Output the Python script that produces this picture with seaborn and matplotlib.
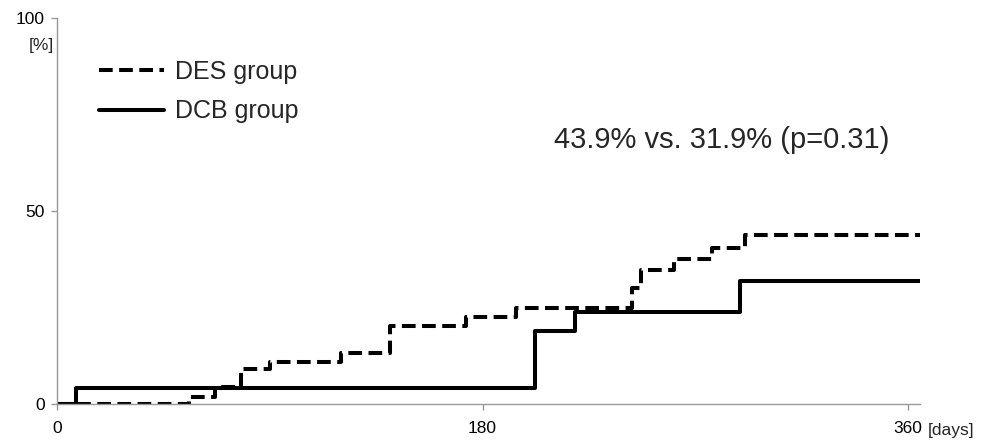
import pandas as pd
import numpy as np
import matplotlib
matplotlib.use('Agg')
import matplotlib.pyplot as plt
import seaborn as sns

sns.set_style('white')
plt.rcParams['font.family'] = ['Liberation Sans', 'DejaVu Sans']

# Cumulative incidence (step curves)
des_days = [0, 56, 67, 78, 90, 120, 141, 173, 194, 243, 247, 261, 277, 291, 365]
des_pct = [0, 1.9, 4.5, 9.1, 11.0, 13.3, 20.2, 22.5, 24.8, 30.0, 34.7, 37.7, 40.5, 43.9, 43.9]
dcb_days = [0, 8, 202, 219, 289, 365]
dcb_pct = [0, 4.1, 19.0, 23.9, 31.9, 31.9]

group_names = ['DES group', 'DCB group']
x_ticks = [0, 180, 360]
y_ticks = [0, 50, 100]
annotation = '43.9% vs. 31.9% (p=0.31)'

df = pd.concat([
    pd.DataFrame({'day': des_days, 'pct': des_pct, 'group': group_names[0]}),
    pd.DataFrame({'day': dcb_days, 'pct': dcb_pct, 'group': group_names[1]}),
], ignore_index=True)

fig = plt.figure(figsize=(9.87, 4.4), dpi=100)
ax = fig.add_axes([0.0578, 0.0818, 0.8743, 0.877])

sns.lineplot(data=df, x='day', y='pct', style='group', style_order=group_names,
             dashes={group_names[0]: (3.4, 1.6), group_names[1]: ''},
             color='black', linewidth=2.9, drawstyle='steps-post',
             estimator=None, sort=False, ax=ax)

ax.set_xlim(0, 365)
ax.set_ylim(0, 100)
ax.set_xticks(x_ticks)
ax.set_yticks(y_ticks)
ax.set_xlabel('')
ax.set_ylabel('')
ax.tick_params(axis='both', labelsize=12.5, colors='#999999', labelcolor='black',
               length=4, width=1, direction='out', bottom=True, left=True)
ax.tick_params(axis='x', pad=8)
ax.tick_params(axis='y', pad=5)
for side in ['top', 'right']:
    ax.spines[side].set_visible(False)
for side in ['left', 'bottom']:
    ax.spines[side].set_color('#999999')
    ax.spines[side].set_linewidth(1)

handles, labels = ax.get_legend_handles_labels()
ax.legend(handles, labels, loc='upper left', bbox_to_anchor=(0.022, 0.95),
          frameon=False, fontsize=18, handlelength=2.6, handletextpad=0.45,
          labelspacing=0.62)

ax.text(281, 68.5, annotation, fontsize=21, ha='center', va='center')
ax.text(-0.004, 0.93, '[%]', transform=ax.transAxes, fontsize=12.5,
        ha='right', va='center')
ax.text(1.009, -0.068, '[days]', transform=ax.transAxes, fontsize=12.5,
        ha='left', va='center')

fig.savefig('out.png', dpi=100)
